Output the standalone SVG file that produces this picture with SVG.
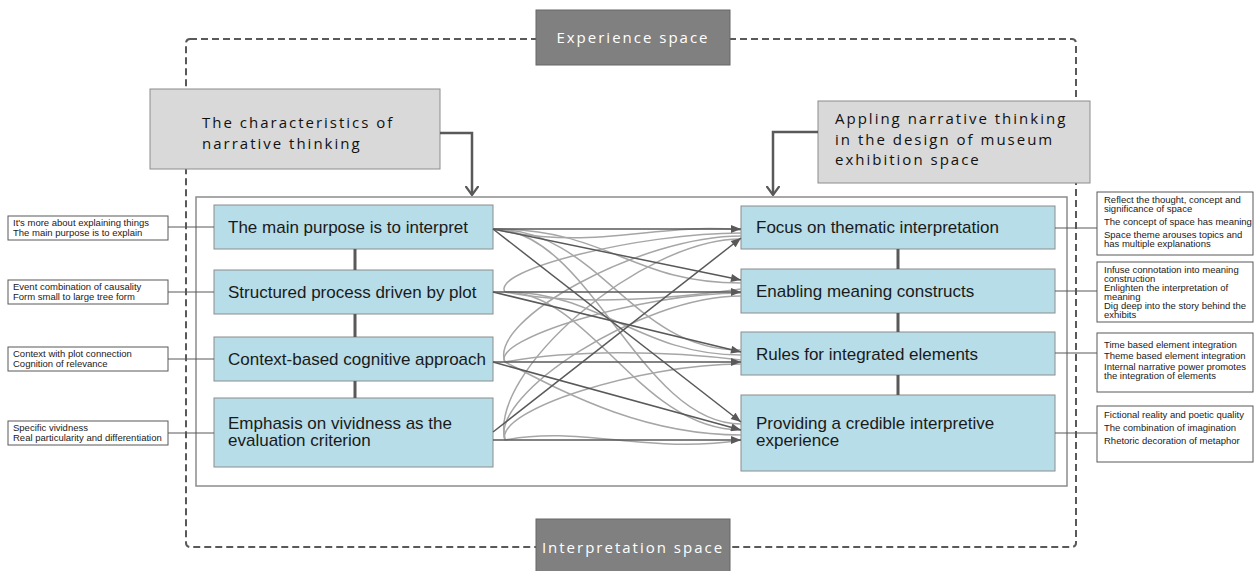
<svg xmlns="http://www.w3.org/2000/svg" width="1256" height="571" viewBox="0 0 1256 571">
<defs>
<style>
.bg{fill:#ffffff}
.dash{fill:none;stroke:#595959;stroke-width:2;stroke-dasharray:7 4}
.space{fill:#808080;stroke:#666666;stroke-width:1}
.spacet{font-family:"Open Sans","DejaVu Sans",sans-serif;font-size:15px;fill:#ffffff;letter-spacing:2px;text-anchor:middle}
.head{fill:#d9d9d9;stroke:#8c8c8c;stroke-width:1}
.headt{font-family:"Open Sans","DejaVu Sans",sans-serif;font-size:15px;fill:#111111;letter-spacing:2px}
.inner{fill:none;stroke:#8c8c8c;stroke-width:1.5}
.node{fill:#b7dde8;stroke:#8c8c8c;stroke-width:1}
.nodet{font-family:"Liberation Sans",Arial,sans-serif;font-size:17px;fill:#1a1a1a}
.note{fill:#ffffff;stroke:#595959;stroke-width:1}
.notet{font-family:"Liberation Sans",Arial,sans-serif;font-size:9.5px;fill:#1a1a1a}
.link{fill:none;stroke:#595959;stroke-width:1}
.vlink{fill:none;stroke:#595959;stroke-width:3}
.big{fill:none;stroke:#595959;stroke-width:2.5}
.dark{fill:none;stroke:#595959;stroke-width:1.5}
.gray{fill:none;stroke:#a6a6a6;stroke-width:1.5}
</style>
<marker id="chev" viewBox="0 0 10 14" refX="9" refY="7" markerWidth="10" markerHeight="14" markerUnits="userSpaceOnUse" orient="auto">
<path d="M0,0.5 L9,7 L0,13.5" fill="none" stroke="#595959" stroke-width="2.2"/>
</marker>
<marker id="tri" viewBox="0 0 10 8" refX="10" refY="4" markerWidth="11" markerHeight="8" markerUnits="userSpaceOnUse" orient="auto">
<path d="M0,0 L10,4 L0,8 Z" fill="#595959"/>
</marker>
</defs>
<rect class="bg" x="0" y="0" width="1256" height="571"/>

<g id="frame">
<rect class="dash" x="186" y="39" width="890" height="508" rx="4"/>
<rect class="inner" x="196" y="197" width="871" height="289"/>
</g>

<g id="experience-space">
<rect class="space" x="536" y="10" width="194" height="55"/>
<text class="spacet" x="633" y="43">Experience space</text>
</g>
<g id="interpretation-space">
<rect class="space" x="536" y="519" width="194" height="56"/>
<text class="spacet" x="633" y="553">Interpretation space</text>
</g>

<g id="header-left">
<rect class="head" x="150" y="89" width="290" height="80"/>
<text class="headt" x="202" y="128">The characteristics of</text>
<text class="headt" x="202" y="149">narrative thinking</text>
</g>
<g id="header-right">
<rect class="head" x="818" y="101" width="272" height="82"/>
<text class="headt" x="835" y="124">Appling narrative thinking</text>
<text class="headt" x="835" y="144.5">in the design of museum</text>
<text class="headt" x="835" y="165">exhibition space</text>
</g>

<g id="L1"><rect class="node" x="214" y="205" width="279" height="44"/><text class="nodet" x="228" y="233">The main purpose is to interpret</text></g>
<g id="L2"><rect class="node" x="214" y="270" width="279" height="44"/><text class="nodet" x="228" y="298">Structured process driven by plot</text></g>
<g id="L3"><rect class="node" x="214" y="337" width="279" height="44"/><text class="nodet" x="228" y="365">Context-based cognitive approach</text></g>
<g id="L4"><rect class="node" x="214" y="398" width="279" height="69"/><text class="nodet" x="228" y="429">Emphasis on vividness as the</text><text class="nodet" x="228" y="446">evaluation criterion</text></g>

<g id="R1"><rect class="node" x="741" y="206" width="314" height="43"/><text class="nodet" x="756" y="233">Focus on thematic interpretation</text></g>
<g id="R2"><rect class="node" x="741" y="269" width="314" height="44"/><text class="nodet" x="756" y="297">Enabling meaning constructs</text></g>
<g id="R3"><rect class="node" x="741" y="332" width="314" height="43"/><text class="nodet" x="756" y="360">Rules for integrated elements</text></g>
<g id="R4"><rect class="node" x="741" y="395" width="314" height="76"/><text class="nodet" x="756" y="429">Providing a credible interpretive</text><text class="nodet" x="756" y="446">experience</text></g>

<g id="note-L1"><rect class="note" x="8" y="216" width="160" height="24"/><text class="notet" x="13" y="226">It's more about explaining things</text><text class="notet" x="13" y="235.5">The main purpose is to explain</text></g>
<g id="note-L2"><rect class="note" x="8" y="280" width="160" height="24"/><text class="notet" x="13" y="290">Event combination of causality</text><text class="notet" x="13" y="299.5">Form small to large tree form</text></g>
<g id="note-L3"><rect class="note" x="8" y="347" width="160" height="24"/><text class="notet" x="13" y="357">Context with plot connection</text><text class="notet" x="13" y="366.5">Cognition of relevance</text></g>
<g id="note-L4"><rect class="note" x="8" y="421" width="160" height="24"/><text class="notet" x="13" y="431">Specific vividness</text><text class="notet" x="13" y="440.5">Real particularity and differentiation</text></g>

<g id="note-R1"><rect class="note" x="1097" y="192" width="156" height="63"/>
<text class="notet" x="1104" y="203">Reflect the thought, concept and</text>
<text class="notet" x="1104" y="212">significance of space</text>
<text class="notet" x="1104" y="225">The concept of space has meaning</text>
<text class="notet" x="1104" y="238">Space theme arouses topics and</text>
<text class="notet" x="1104" y="247">has multiple explanations</text></g>
<g id="note-R2"><rect class="note" x="1097" y="262" width="156" height="60"/>
<text class="notet" x="1104" y="273">Infuse connotation into meaning</text>
<text class="notet" x="1104" y="282">construction</text>
<text class="notet" x="1104" y="291">Enlighten the interpretation of</text>
<text class="notet" x="1104" y="300">meaning</text>
<text class="notet" x="1104" y="309">Dig deep into the story behind the</text>
<text class="notet" x="1104" y="318">exhibits</text></g>
<g id="note-R3"><rect class="note" x="1097" y="333" width="156" height="59"/>
<text class="notet" x="1104" y="348">Time based element integration</text>
<text class="notet" x="1104" y="359">Theme based element integration</text>
<text class="notet" x="1104" y="370">Internal narrative power promotes</text>
<text class="notet" x="1104" y="379">the integration of elements</text></g>
<g id="note-R4"><rect class="note" x="1097" y="406" width="156" height="56"/>
<text class="notet" x="1104" y="418">Fictional reality and poetic quality</text>
<text class="notet" x="1104" y="431">The combination of imagination</text>
<text class="notet" x="1104" y="444">Rhetoric decoration of metaphor</text></g>

<g id="connectors">
<path class="big" d="M440,133 H472 V195" marker-end="url(#chev)"/>
<path class="big" d="M818,132 H773 V195" marker-end="url(#chev)"/>

<path class="vlink" d="M355,249 V270 M355,314 V337 M355,381 V398"/>
<path class="vlink" d="M898,249 V269 M898,313 V332 M898,375 V395"/>

<path class="link" d="M168,227 H214 M168,292 H214 M168,359 H214 M168,433 H214"/>
<path class="link" d="M1055,228 H1097 M1055,291 H1097 M1055,353 H1097 M1055,433 H1097"/>

<path class="gray" d="M493,229 C600,252 650,222 741,230"/>
<path class="gray" d="M493,229 C610,229 630,283 741,283"/>
<path class="gray" d="M493,229 C600,229 630,350 741,350"/>
<path class="gray" d="M493,229 C590,229 640,424 741,424"/>
<path class="gray" d="M505,292 C490,270 640,233 741,233"/>
<path class="gray" d="M505,292 C570,305 660,300 741,289"/>
<path class="gray" d="M505,292 C600,292 640,355 741,355"/>
<path class="gray" d="M505,292 C590,292 640,430 741,430"/>
<path class="gray" d="M505,362 C488,320 640,236 741,236"/>
<path class="gray" d="M505,362 C490,340 640,293 741,293"/>
<path class="gray" d="M505,362 C570,350 660,350 741,360"/>
<path class="gray" d="M505,362 C560,390 640,435 741,435"/>
<path class="gray" d="M505,440 C488,372 641,239 741,239"/>
<path class="gray" d="M505,440 C490,395 640,296 741,296"/>
<path class="gray" d="M505,440 C495,410 640,364 741,364"/>
<path class="gray" d="M505,440 C580,425 650,455 741,440"/>

<path class="dark" d="M493,229 H741" marker-end="url(#tri)"/>
<path class="dark" d="M493,229 L741,280" marker-end="url(#tri)"/>
<path class="dark" d="M493,229 L741,422" marker-end="url(#tri)"/>
<path class="dark" d="M493,292 H741" marker-end="url(#tri)"/>
<path class="dark" d="M493,292 L741,352" marker-end="url(#tri)"/>
<path class="dark" d="M493,362 H741" marker-end="url(#tri)"/>
<path class="dark" d="M493,362 L741,430" marker-end="url(#tri)"/>
<path class="dark" d="M493,432 L741,238" marker-end="url(#tri)"/>
<path class="dark" d="M493,440 H741" marker-end="url(#tri)"/>
</g>
</svg>
